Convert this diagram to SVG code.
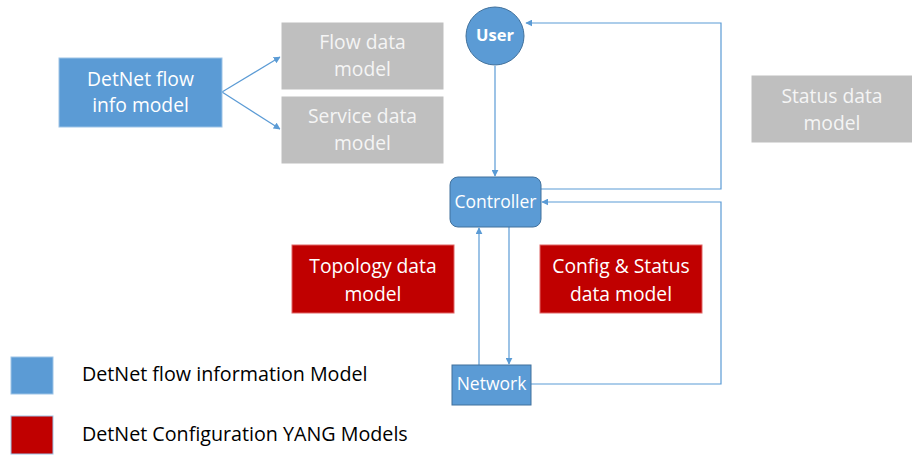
<svg xmlns="http://www.w3.org/2000/svg" width="912" height="462" viewBox="0 0 912 462">
<defs>
<marker id="ah" viewBox="0 0 10 10" refX="9" refY="5" markerWidth="7" markerHeight="7" markerUnits="userSpaceOnUse" orient="auto"><path d="M0,0 L10,5 L0,10 z" fill="#5B9BD5"/></marker>
<style>
.blue{fill:#5B9BD5;stroke:#41719C;stroke-width:1}
.grey{fill:#BFBFBF;stroke:#FFFFFF;stroke-width:1}
.red{fill:#C00000;stroke:#E06666;stroke-width:1}
.t{font-family:"Open Sans","Liberation Sans",sans-serif;font-size:19.3px;fill:#FFFFFF;text-anchor:middle}
.tg{fill:#F5F5F5}
.s{font-family:"Open Sans","Liberation Sans",sans-serif;font-size:17.5px;fill:#FFFFFF;text-anchor:middle}
.leg{font-family:"Open Sans","Liberation Sans",sans-serif;font-size:19.7px;fill:#000000}
.c{fill:none;stroke:#5B9BD5;stroke-width:1.2}
</style>
</defs>
<rect width="912" height="462" fill="#FFFFFF"/>
<g id="connectors">
<path class="c" d="M222,92 L280,57" marker-end="url(#ah)"/>
<path class="c" d="M222,92 L280,129" marker-end="url(#ah)"/>
<path class="c" d="M495,66 L495,176" marker-end="url(#ah)"/>
<path class="c" d="M541,189 L721,189 L721,23 L526,23" marker-end="url(#ah)"/>
<path class="c" d="M531,384 L721,384 L721,202 L542,202" marker-end="url(#ah)"/>
<path class="c" d="M479,365 L479,228" marker-end="url(#ah)"/>
<path class="c" d="M509,227 L509,364" marker-end="url(#ah)"/>
</g>
<g id="detnet-flow-info">
<rect class="blue" x="59" y="58" width="163" height="69" style="stroke:#9DC3E6"/>
<text class="t" x="140.5" y="86">DetNet flow</text>
<text class="t" x="140.5" y="112">info model</text>
</g>
<g id="flow-data">
<rect class="grey" x="281" y="22" width="163" height="68"/>
<text class="t tg" x="362.5" y="49">Flow data</text>
<text class="t tg" x="362.5" y="76">model</text>
</g>
<g id="service-data">
<rect class="grey" x="281" y="96" width="163" height="68"/>
<text class="t tg" x="362.5" y="123">Service data</text>
<text class="t tg" x="362.5" y="150">model</text>
</g>
<g id="user">
<circle class="blue" cx="495" cy="36" r="29"/>
<text class="s" x="495" y="41" style="font-weight:bold;font-size:16.5px">User</text>
</g>
<g id="controller">
<rect class="blue" x="450" y="177" width="91" height="50" rx="8"/>
<text class="s" x="495.5" y="208">Controller</text>
</g>
<g id="network">
<rect class="blue" x="452" y="365" width="79" height="40"/>
<text class="s" x="491.5" y="390">Network</text>
</g>
<g id="topology-data">
<rect class="red" x="292" y="245" width="162" height="68"/>
<text class="t" x="373" y="273">Topology data</text>
<text class="t" x="373" y="301">model</text>
</g>
<g id="config-status-data">
<rect class="red" x="540" y="245" width="162" height="68"/>
<text class="t" x="621" y="273">Config &amp; Status</text>
<text class="t" x="621" y="301">data model</text>
</g>
<g id="status-data">
<rect class="grey" x="751" y="75" width="162" height="68"/>
<text class="t tg" x="832" y="103">Status data</text>
<text class="t tg" x="832" y="130">model</text>
</g>
<g id="legend">
<rect class="blue" x="11" y="357" width="42" height="37" style="stroke:#9DC3E6"/>
<text class="leg" x="82" y="381">DetNet flow information Model</text>
<rect class="red" x="11" y="416" width="42" height="38" style="stroke:#9DC3E6"/>
<text class="leg" x="82" y="441">DetNet Configuration YANG Models</text>
</g>
</svg>
